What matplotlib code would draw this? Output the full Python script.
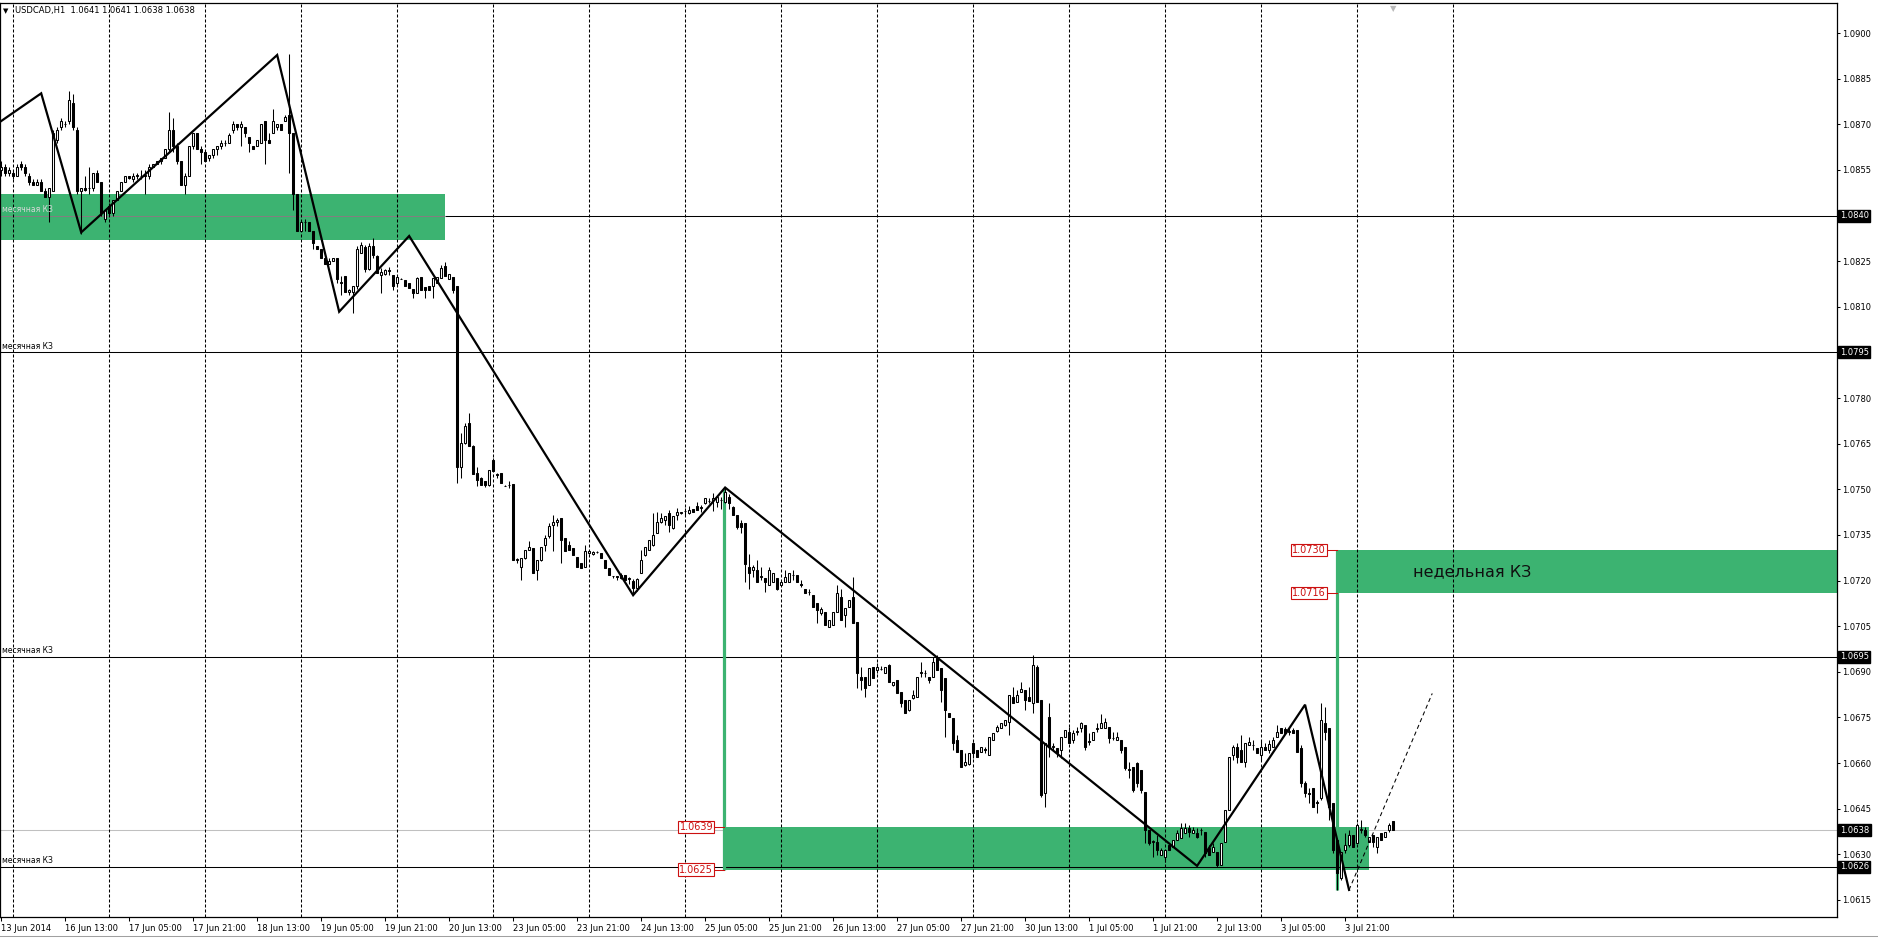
import numpy as np
import matplotlib
matplotlib.use('Agg')
import matplotlib.pyplot as plt
from matplotlib.lines import Line2D

BASE = 1.0600   # all levels below are pips above 1.0600
PIP = 0.0001

# USDCAD H1 candles, bar 0 = 13 Jun 2014 21:00
opens = [
    255, 256, 254, 254, 253, 257, 256, 253, 251, 250, 251, 248,
    246, 248, 265, 269, 270, 271, 277, 268, 248, 249, 249, 249,
    254, 251, 239, 243, 241, 245, 248, 251, 253, 252, 253, 253,
    253, 253, 256, 257, 258, 259, 262, 268, 263, 258, 250, 253,
    263, 267, 262, 261, 259, 260, 262, 263, 264, 264, 268, 270,
    269, 269, 266, 263, 263, 264, 271, 265, 267, 269, 270, 271,
    273, 267, 247, 235, 238, 238, 235, 230, 229, 226, 224, 225,
    226, 218, 220, 215, 215, 217, 227.6, 229.8, 222.5, 230, 226.7, 220.5,
    220.8, 222, 220.5, 217.7, 219.2, 218.8, 217.7, 215.8, 214.5, 219.7, 216.4, 216.7,
    216.7, 217.7, 219.4, 223.4, 219, 219.9, 216.7, 157.5, 165.2, 171.7, 164.1, 155.5,
    153.7, 152.6, 151.5, 159.7, 155, 155.3, 151.2, 151.5, 151.8, 126.8, 124.6, 127.4,
    130.1, 130.7, 123.6, 126.8, 131.8, 134.5, 138.3, 139.4, 140.5, 134, 131.8, 130.7,
    127.9, 125.7, 124.6, 129, 128.8, 129.4, 129, 126.8, 124.1, 121.4, 121.4, 120.8,
    121.9, 120.8, 120, 117.5, 122.5, 128.5, 130.1, 131.8, 135.6, 139.4, 139.9, 142.2,
    137.2, 141.6, 142.2, 143, 142.2, 143.5, 144.4, 144, 145.5, 146.3, 146.5, 145.9,
    146.5, 145.9, 147.6, 144.3, 141.5, 138.8, 138.8, 124.6, 123.5, 123.5, 121.3, 120.7,
    118.5, 119.6, 120.7, 118.5, 119.6, 119.6, 121.8, 121.8, 118.9, 117.4, 116.3, 115.3,
    112.5, 109.2, 109.8, 104.8, 105.4, 109.8, 114.7, 108.7, 111.4, 114.7, 106.5, 88.4,
    88.4, 85.7, 91.7, 90.6, 91, 89.5, 92.2, 85.7, 87.3, 83.5, 80.7, 77.5,
    81.3, 81.8, 89.5, 89.5, 88.4, 88.4, 94.4, 91.2, 87.9, 76.4, 74.7, 67.6,
    64.3, 59.4, 59.7, 66.5, 64.3, 63.8, 64.5, 62.7, 67.6, 70.4, 71.5, 72.5,
    73.6, 81.8, 80.2, 83.5, 84, 81.6, 79.6, 91.7, 80.7, 50.1, 75.3, 65.4,
    64.9, 64.3, 68.7, 70.3, 67.6, 70.1, 71.4, 72.5, 67, 67.6, 71.3, 71.4,
    71.4, 72, 68.1, 67.6, 67.6, 65.4, 57.7, 58.8, 59.9, 57.7, 50.6, 38,
    34.2, 34.2, 29.8, 29.2, 33.1, 32.5, 34.7, 35.3, 36.9, 38.6, 36.9, 36.9,
    38, 37.5, 32, 30.9, 30.9, 26.5, 34.2, 44.6, 62.7, 65.4, 64.3, 60.5,
    65.9, 65.9, 64.8, 62.7, 65.4, 64.3, 65.4, 68.7, 71.4, 71.1, 70.3, 70.9,
    70.9, 64.8, 53.3, 50.1, 51.7, 47.3, 48.4, 73.1, 71.4, 46.8, 34.7, 22.1,
    31.4, 33.1, 36.4, 33.6, 38, 38, 34.2, 36.4, 32.5, 36.9, 35.8, 38,
    41,
]
highs = [
    258, 257, 256, 255, 257, 258, 257, 254, 252, 252, 252, 249,
    249, 268, 269, 272, 271, 281, 280, 269, 249, 253, 256, 254,
    255, 251, 242, 244, 245, 248, 251, 253, 253, 254, 254, 255,
    255, 257, 257, 258, 259, 262, 274, 272, 264, 258, 254, 263,
    267, 267, 263, 261, 260, 262, 263, 265, 265, 267, 271, 270,
    271, 269, 266, 263, 265, 270, 271, 267, 275, 270, 270, 273,
    293, 267, 247, 238, 239, 238, 235, 230, 229, 226, 226, 226,
    226, 220, 220, 216, 217, 230, 231.4, 230.5, 230.9, 232.5, 227, 222.7,
    222.5, 223.2, 220.5, 219.7, 219.5, 218.8, 218, 215.8, 219.7, 219.7, 216.4, 216.7,
    219.4, 219.9, 223.8, 224.9, 220.8, 219.9, 216.7, 168.5, 171.7, 175, 164.5, 157.5,
    154, 152.6, 156.4, 160.2, 155.3, 155.3, 151.5, 152.6, 151.8, 127.4, 127.4, 130.1,
    132.9, 130.7, 126.8, 131.2, 135.1, 138.9, 141.6, 140.5, 140.5, 134, 132.9, 130.7,
    127.9, 125.7, 131.8, 129.6, 129.6, 129.6, 129, 126.8, 124.1, 121.6, 121.6, 122.5,
    122, 121.2, 120.5, 121, 130, 131.2, 133.4, 142.2, 142.7, 142.2, 141.1, 143.3,
    141, 143.8, 142.7, 143.8, 144.4, 143.5, 146, 144.9, 147.1, 147.1, 148.7, 147.6,
    147.6, 150.3, 148.6, 144.5, 141.5, 139.9, 138.8, 128.9, 125.1, 126.7, 124.6, 120.7,
    124.6, 122.4, 120.7, 119.6, 123.5, 122.4, 123.5, 121.8, 120.2, 117.4, 117.4, 115.3,
    112.5, 111.4, 109.8, 107, 109.8, 118.5, 117.4, 110.9, 113.6, 121.3, 106.5, 91.7,
    88.4, 91.2, 91.7, 92.8, 91.9, 91.7, 92.5, 86.8, 87.3, 83.5, 80.7, 80.7,
    84, 88.4, 93.3, 90.6, 88.4, 95, 95.5, 91.2, 87.9, 76.6, 74.7, 69.2,
    64.3, 63.2, 63.2, 67, 64.3, 65.4, 65.4, 68.7, 69.8, 72.5, 73.1, 74.2,
    82.4, 85.1, 84, 86.8, 84, 85.1, 95.5, 92.2, 80.7, 66.5, 79.6, 66.5,
    64.9, 68.7, 70.9, 72, 70.9, 72, 73.6, 72.5, 69.8, 70.3, 73.1, 76.3,
    74.7, 72, 70.3, 70.3, 67.6, 65.4, 60.5, 58.8, 60.5, 57.7, 50.6, 38,
    34.7, 36.4, 32, 31.4, 33.1, 34.7, 38, 40.2, 40.2, 39.7, 39.1, 38.6,
    38.6, 37.5, 33.1, 33.6, 30.9, 33.6, 44.6, 62.1, 65.9, 66.5, 69.2, 66.5,
    68.7, 67.6, 64.8, 67.6, 66.5, 67.6, 68.7, 72.5, 71.4, 72, 71.4, 71.4,
    70.9, 65.9, 54, 51.7, 51.7, 47.9, 79.6, 78.5, 71.4, 46.8, 34.7, 30.9,
    36.9, 38, 36.4, 40.2, 41.3, 39.1, 35.8, 36.4, 35.8, 36.9, 37.5, 40.2,
    41,
]
lows = [
    253, 253, 253, 252, 253, 255, 253, 250, 250, 250, 248, 246,
    238, 248, 264, 268, 269, 270, 268, 247, 234, 248, 247, 248,
    251, 240, 238, 240, 240, 245, 248, 251, 252, 251, 252, 252,
    247, 252, 256, 257, 257, 259, 261, 261, 257, 250, 247, 253,
    262, 262, 257, 258, 258, 259, 260, 262, 263, 264, 267, 268,
    263, 266, 261, 262, 263, 264, 257, 264, 267, 268, 268, 271,
    254, 242, 235, 235, 235, 235, 229, 229, 226, 224, 224, 225,
    218, 214, 215, 214, 208, 216, 227.6, 221.6, 222, 226, 221, 214.5,
    220.5, 220.5, 215.6, 216.7, 219, 216.7, 216.1, 212.8, 214.5, 215.6, 212.8, 215.6,
    212.8, 217.7, 219.4, 220, 219, 214.5, 152, 153.7, 165, 164.1, 155, 151,
    151.5, 150.9, 151.2, 155.9, 153.7, 152, 151, 150.4, 126.8, 125.7, 120.3, 127,
    130, 122.5, 120.3, 126.5, 129.6, 134, 129.6, 138, 125.7, 129.6, 130.1, 128.5,
    124.6, 124.1, 124.6, 128.8, 128.5, 129, 127.5, 124.1, 121.9, 121, 120.3, 120.5,
    120.3, 119, 116, 116.5, 122.5, 128, 130, 131.5, 135.5, 139, 138.3, 136,
    137, 140, 142, 141.5, 142, 142.4, 143.3, 142.7, 145.3, 145.5, 143, 144.3,
    143.7, 145.5, 143.7, 141.5, 137.1, 135.5, 119.6, 117.4, 121.3, 119.6, 120.2, 116.3,
    118.5, 119.5, 116.9, 118.4, 119.6, 119.6, 120.2, 119.6, 118, 115.8, 115.3, 111.4,
    105.9, 108.7, 105.4, 104.8, 105.4, 109.8, 107, 104.8, 111.4, 105.9, 84.6, 84,
    81.8, 85.7, 87.9, 89.5, 90.6, 89.5, 86.8, 85.5, 82.9, 78.5, 76.4, 77,
    81.2, 81.8, 88.4, 88.4, 86.2, 88.4, 90.6, 80.2, 68.7, 75.3, 64.3, 63.8,
    58.8, 59.2, 59.5, 61.6, 62.1, 63.6, 63.2, 62.5, 67.5, 70.2, 71.4, 72.3,
    69.2, 79.6, 80.2, 83.3, 77.5, 80.5, 76.4, 80.2, 49, 45.7, 62.1, 64.3,
    62.1, 61.6, 68.7, 66.5, 66.5, 69.2, 70.3, 64.3, 65.9, 67.6, 70.3, 71.4,
    71.4, 66.5, 67.6, 67.6, 63.2, 57.7, 55, 50.6, 52.3, 50.1, 33.6, 33.1,
    29.2, 29.8, 29.8, 27.6, 31.4, 32.5, 34.7, 35.3, 36.9, 35.8, 36.9, 35.3,
    36.4, 29.2, 29.8, 30.9, 26, 26.5, 34.2, 44.6, 61, 59.9, 60.5, 58.8,
    65.9, 64.3, 63.2, 61, 64.3, 63.2, 65.4, 68.7, 69.8, 70, 69.2, 69.8,
    63.7, 52.3, 49, 46.8, 45.7, 43.5, 47.9, 67.6, 41.3, 30.3, 18.3, 21.6,
    30.3, 32.5, 32.5, 33.6, 36.9, 35.8, 34.2, 32.5, 30.3, 34.7, 35.8, 37.5,
    38,
]
closes = [
    256, 254, 255, 253, 256, 256, 254, 251, 250, 251, 248, 246,
    249, 267, 268, 271, 270, 278, 269, 248, 249, 248.5, 249, 254,
    251, 241, 242, 241, 245, 248, 251, 253, 252.5, 253, 253.5, 253,
    253.5, 256, 257, 258, 259, 262, 268, 263, 258, 250, 253, 263,
    267, 262, 261, 258, 260, 262, 263, 264, 264, 266.5, 270, 269,
    270, 267, 264, 262, 265, 270, 265, 264, 271, 270, 268, 272.5,
    267, 247, 235, 238, 238, 235, 231, 229, 226, 224, 225, 226,
    219, 218, 215, 215.5, 217, 229, 230.3, 222.5, 230, 227.1, 221, 221.6,
    222.1, 221.9, 216.7, 219.7, 219.2, 216.7, 216.1, 214.5, 219.4, 215.6, 215.6, 215.6,
    219.4, 219.9, 222.7, 220, 220.8, 215.6, 157.5, 165.2, 170.7, 164.1, 155, 153.1,
    151.5, 151.5, 156.4, 155.9, 154.8, 152, 151.2, 151.5, 126.8, 127, 127.4, 130.1,
    131.2, 122.5, 126.8, 131.2, 134, 137.8, 139.4, 139.8, 133.4, 129.6, 130.1, 128.5,
    124.6, 124.1, 129.6, 129.6, 129.4, 129.4, 127.5, 124.1, 121.9, 121.4, 121.2, 121.9,
    120.3, 120.5, 117.5, 120.5, 126.8, 131.2, 133.4, 135.1, 139.4, 140.5, 141.1, 138.3,
    141.1, 142.7, 142.7, 143, 143.3, 142.4, 143.3, 144.1, 147.1, 146.3, 147.3, 147.6,
    146.5, 149.2, 145.4, 141.5, 137.7, 137.7, 125.6, 122.4, 124.6, 119.6, 121.6, 119.6,
    123.5, 122.4, 117.4, 119.6, 121.3, 122.4, 121.9, 119.6, 118.7, 115.8, 116.1, 111.4,
    110.3, 110.5, 105.4, 107, 109.8, 115.8, 107, 110.9, 113.6, 105.9, 89.5, 87.3,
    84.6, 91.2, 87.9, 91.7, 91.1, 91.7, 86.8, 86.8, 82.9, 79.6, 76.4, 80.7,
    82.4, 88.4, 90.1, 89.6, 87.3, 93.3, 90.6, 84, 77.5, 75.3, 66.5, 63.8,
    58.8, 60.5, 63.2, 63.2, 62.1, 65.4, 64.3, 68.7, 69.8, 72, 73.1, 74.2,
    82.4, 79.6, 82.4, 84.2, 80.7, 80.5, 92.2, 80.2, 49.5, 66.5, 65.4, 65.5,
    63.2, 68.7, 70.9, 66.5, 69.8, 70.4, 73.1, 65.4, 67.2, 70.3, 71.5, 73.1,
    73.6, 68.1, 68.3, 68.7, 64.3, 58.3, 57.9, 51.2, 53.3, 51.2, 38, 33.6,
    34.3, 31.4, 31.4, 31.4, 31.4, 34.7, 36.9, 38.6, 38.6, 37.5, 38, 35.8,
    38.1, 30.3, 29.8, 32.5, 26.5, 33.6, 44.6, 62.1, 65.4, 62.1, 60.5, 66.5,
    67, 66, 63.2, 65.4, 64.3, 66.3, 67.6, 70.3, 69.8, 70, 70.4, 69.8,
    63.7, 53.3, 50.1, 49.8, 45.7, 47, 74.2, 70.3, 45.7, 31.4, 23.8, 30.9,
    33.1, 36.4, 32.5, 39.7, 38.2, 36.4, 35.8, 34.2, 35.8, 34.7, 37.5, 39.7,
    38,
]
assert len(opens) == len(highs) == len(lows) == len(closes)

# time axis labels, one every 16 bars
time_labels = ['13 Jun 2014', '16 Jun 13:00', '17 Jun 05:00', '17 Jun 21:00', '18 Jun 13:00',
               '19 Jun 05:00', '19 Jun 21:00', '20 Jun 13:00', '23 Jun 05:00', '23 Jun 21:00',
               '24 Jun 13:00', '25 Jun 05:00', '25 Jun 21:00', '26 Jun 13:00', '27 Jun 05:00',
               '27 Jun 21:00', '30 Jun 13:00', '1 Jul 05:00', '1 Jul 21:00', '2 Jul 13:00',
               '3 Jul 05:00', '3 Jul 21:00']
label_step = 16
day_start_bars = [3 + 24 * k for k in range(16)]

# zigzag (bar, pips)
zz_bars = [-0.1, 10, 20, 69, 84.5, 102, 158, 181, 299, 326, 337]
zz_pips = [271, 280.2, 234.5, 292.8, 208.4, 233.3, 115.2, 150.6, 26.2, 79.2, 18.3]
proj_bars = [337, 357.8]
proj_pips = [18.3, 82.9]

# horizontal levels
level_pips = [240, 195, 95, 26]
level_text = ['месячная КЗ', 'месячная КЗ', 'месячная КЗ', 'месячная КЗ']
bid_pips = 38

# zones: (bar from, bar to, pips low, pips high)
zones = [(-1, 110.9, 232, 247), (181.2, 341.9, 25, 39), (334.2, 470, 116, 130)]
zone_marks = [(180.8, 150, 25, '1.0639', '1.0625', 39, 25),
              (333.9, 130, 18.3, '1.0730', '1.0716', 130, 116)]

GREEN = '#3cb371'
RED = '#cc1010'


def px(v):
    return BASE + np.asarray(v, dtype=float) * PIP


W, H = 1878, 939
fig = plt.figure(figsize=(W / 100, H / 100), dpi=100)
ax = fig.add_axes([0, 1 - 917 / H, 1837 / W, 914 / H])
ax.set_xlim(-0.3, 459.0)
ax.set_ylim(px(9.4), px(309.9))

dash = (0, (2.9, 1.9))
for b in day_start_bars:
    ax.axvline(b, color='black', lw=0.75, ls=dash, zorder=2.5)

for p in level_pips:
    ax.axhline(px(p), color='black', lw=0.75, zorder=1)
ax.axhline(px(bid_pips), color='#c0c0c0', lw=0.75, zorder=1)

for b0, b1, lo, hi in zones:
    ax.fill_between([b0, b1], px(lo), px(hi), color=GREEN, lw=0, zorder=2)
# level lines seen through the zones
ax.plot([zones[0][0], zones[0][1]], [px(level_pips[0])] * 2, color='#808080', lw=0.75, zorder=2.2)
ax.plot([zones[1][0], zones[1][1]], [px(level_pips[3])] * 2, color='black', lw=0.75, zorder=2.2)

for b, top, bot, t_hi, t_lo, p_hi, p_lo in zone_marks:
    ax.plot([b, b], [px(top), px(bot)], color=GREEN, lw=2.3, zorder=2.3, solid_capstyle='butt')
    for t, p in [(t_hi, p_hi), (t_lo, p_lo)]:
        ax.plot([b - 2.6, b], [px(p), px(p)], color=RED, lw=0.75, zorder=5)
        ax.text(b - 2.8, px(p), t, ha='right', va='center', fontsize=7, color=RED, zorder=6,
                bbox=dict(boxstyle='square,pad=0.12', fc='white', ec=RED, lw=0.8))

ax.text(367.9, px(123), 'недельная КЗ', ha='center', va='center', fontsize=11.5, color='#101010', zorder=6)

# candles
o = px(opens); h = px(highs); l = px(lows); c = px(closes)
x = np.arange(len(o))
ax.vlines(x, l, h, color='black', lw=0.75, zorder=3)
up = c >= o
body = np.maximum(np.abs(c - o), 0.015 * PIP)
ax.bar(x[up], body[up], bottom=o[up], width=0.5, color='white', edgecolor='black', lw=0.75, zorder=3.5)
ax.bar(x[~up], body[~up], bottom=c[~up], width=0.5, color='black', edgecolor='black', lw=0.75, zorder=3.5)

ax.plot(zz_bars, px(zz_pips), color='black', lw=1.6, zorder=4, solid_joinstyle='miter')
ax.plot(proj_bars, px(proj_pips), color='black', lw=0.75, ls=(0, (4, 3)), zorder=4)

# level descriptions
for p, t, col in zip(level_pips, level_text, ['#d8d8d8', 'black', 'black', 'black']):
    ax.annotate(t, xy=(0, px(p)), xycoords=('axes fraction', 'data'), xytext=(1.5, 1),
                textcoords='offset points', fontsize=5.5, color=col, va='bottom', ha='left', zorder=6)

# right price scale
ticks = [p for p in range(15, 301, 15) if p not in level_pips]
ax.yaxis.tick_right()
ax.set_yticks(px(ticks))
ax.set_yticklabels(['%.4f' % v for v in px(ticks)])
ax.tick_params(axis='y', length=2.2, width=0.75, pad=1.5, labelsize=6)
for p in level_pips + [bid_pips]:
    ax.annotate('%.4f' % px(p), xy=(1, px(p)), xycoords=('axes fraction', 'data'), xytext=(2, 0),
                textcoords='offset points', fontsize=6, color='white', va='center', ha='left',
                annotation_clip=False, bbox=dict(boxstyle='square,pad=0.18', fc='black', ec='black'))

# time scale
label_bars = [label_step * k for k in range(len(time_labels))]
ax.set_xticks(label_bars)
ax.set_xticklabels(time_labels)
for lbl in ax.get_xticklabels():
    lbl.set_ha('left')
ax.tick_params(axis='x', length=3, width=0.75, pad=2, labelsize=6)

for s in ax.spines.values():
    s.set_linewidth(0.9)

# header and chart shift mark
fig.text(3 / W, 1 - 11 / H, '▼', fontsize=5, va='center', ha='left')
fig.text(15 / W, 1 - 11 / H, 'USDCAD,H1  1.0641 1.0641 1.0638 1.0638', fontsize=6, va='center', ha='left')
ax.annotate('▼', xy=(len(o) - 1, 1), xycoords=('data', 'axes fraction'), xytext=(0, -1),
            textcoords='offset points', fontsize=6, color='#b8b8b8', ha='center', va='top')
fig.add_artist(Line2D([0, 1], [1 - 936 / H] * 2, color='#a0a0a0', lw=0.75))

fig.savefig('out.png', dpi=100)
